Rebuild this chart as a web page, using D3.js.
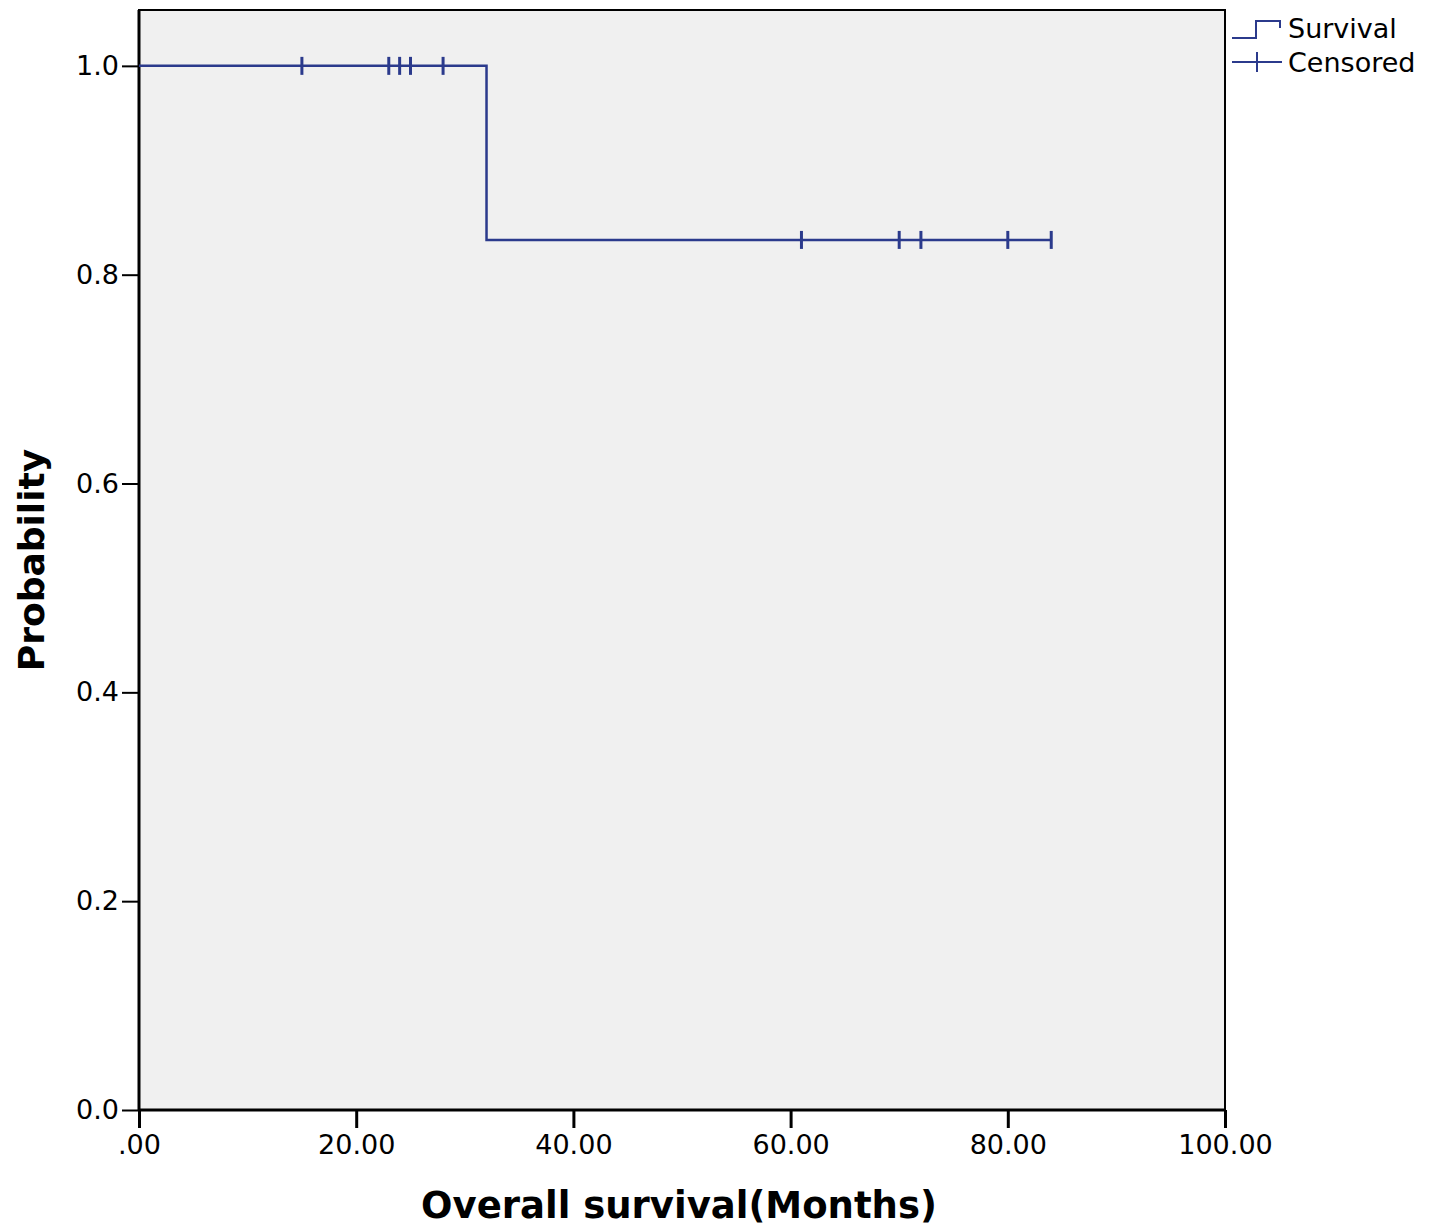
<!DOCTYPE html>
<meta charset="utf-8">
<head>
  <script src="https://d3js.org/d3.v7.min.js"></script>
  <style>
    body { margin: 0; background: #fff; }
    #my_dataviz text { font-family: "DejaVu Sans", Verdana, sans-serif; fill: #000; }
  </style>
</head>
<div id="my_dataviz"></div>
<script>
// survival curve (Kaplan-Meier steps)
var stepTimes = [0, 32, 84];
var stepProbs = [1.0, 0.8333, 0.8333];
// censored observations
var censorTimes = [15, 23, 24, 25, 28, 61, 70, 72, 80, 84];
var censorProbs = [1.0, 1.0, 1.0, 1.0, 1.0, 0.8333, 0.8333, 0.8333, 0.8333, 0.8333];
var xTicks = [0, 20, 40, 60, 80, 100];
var xTickLabels = [".00", "20.00", "40.00", "60.00", "80.00", "100.00"];
var yTicks = [0, 0.2, 0.4, 0.6, 0.8, 1.0];
var legendLabels = ["Survival", "Censored"];

var W = 1435, H = 1226;
var margin = {top: 10, right: 210, bottom: 116, left: 139},
    width = 1225 - margin.left,
    height = 1110 - margin.top;
var lineColor = "#2b3a8c";

var svg = d3.select("#my_dataviz")
  .append("svg")
    .attr("width", W)
    .attr("height", H)
  .append("g")
    .attr("transform", "translate(" + margin.left + "," + margin.top + ")");

var x = d3.scaleLinear().domain([0, 100]).range([0, width]);
var y = d3.scaleLinear().domain([0, 1.0535]).range([height, 0]);

// plot background and frame
svg.append("rect")
  .attr("x", 0).attr("y", 0)
  .attr("width", width).attr("height", height)
  .attr("fill", "#f0f0f0")
  .attr("stroke", "#000")
  .attr("stroke-width", 2);

// Y axis
var yAxis = svg.append("g")
  .call(d3.axisLeft(y).tickValues(yTicks).tickFormat(d3.format(".1f")).tickSize(17).tickPadding(3));
yAxis.select(".domain").remove();
yAxis.selectAll("line").attr("stroke-width", 2);
yAxis.selectAll("text").style("font-size", "27px");
svg.append("line")
  .attr("x1", 0).attr("x2", 0).attr("y1", 0).attr("y2", height)
  .attr("stroke", "#000").attr("stroke-width", 3);

// X axis
var xAxis = svg.append("g")
  .attr("transform", "translate(0," + height + ")")
  .call(d3.axisBottom(x).tickValues(xTicks).tickFormat(function(d, i) { return xTickLabels[i]; }).tickSize(18).tickPadding(7));
xAxis.select(".domain").remove();
xAxis.selectAll("line").attr("stroke-width", 3);
xAxis.selectAll("text").style("font-size", "27px");
svg.append("line")
  .attr("x1", 0).attr("x2", width).attr("y1", height).attr("y2", height)
  .attr("stroke", "#000").attr("stroke-width", 3);

// survival step line
var line = d3.line()
  .x(function(d) { return x(d[0]); })
  .y(function(d) { return y(d[1]); })
  .curve(d3.curveStepAfter);
svg.append("path")
  .datum(stepTimes.map(function(t, i) { return [t, stepProbs[i]]; }))
  .attr("fill", "none")
  .attr("stroke", lineColor)
  .attr("stroke-width", 2.5)
  .attr("d", line);

// censor marks
svg.selectAll("censor")
  .data(censorTimes)
  .enter()
  .append("line")
    .attr("x1", function(d) { return x(d); })
    .attr("x2", function(d) { return x(d); })
    .attr("y1", function(d, i) { return y(censorProbs[i]) - 9; })
    .attr("y2", function(d, i) { return y(censorProbs[i]) + 9; })
    .attr("stroke", lineColor)
    .attr("stroke-width", 3);

// axis titles
svg.append("text")
  .attr("x", (423 + 935) / 2 - margin.left)
  .attr("y", 1218 - margin.top)
  .attr("text-anchor", "middle")
  .style("font-size", "37px")
  .style("font-weight", "bold")
  .text("Overall survival(Months)");
svg.append("text")
  .attr("transform", "translate(" + (44 - margin.left) + "," + (560 - margin.top) + ") rotate(-90)")
  .attr("text-anchor", "middle")
  .style("font-size", "36px")
  .style("font-weight", "bold")
  .text("Probability");

// legend
var lg = svg.append("g").attr("transform", "translate(" + (1232 - margin.left) + "," + (0 - margin.top) + ")");
lg.append("path")
  .attr("d", "M0,38 H24 V21 H48 V28")
  .attr("fill", "none").attr("stroke", lineColor).attr("stroke-width", 2);
lg.append("line").attr("x1", 0).attr("x2", 50).attr("y1", 62).attr("y2", 62)
  .attr("stroke", lineColor).attr("stroke-width", 2);
lg.append("line").attr("x1", 25).attr("x2", 25).attr("y1", 52).attr("y2", 72)
  .attr("stroke", lineColor).attr("stroke-width", 2);
lg.selectAll("legtext")
  .data(legendLabels)
  .enter()
  .append("text")
    .attr("x", 56)
    .attr("y", function(d, i) { return 38 + i * 34; })
    .style("font-size", "27px")
    .text(function(d) { return d; });
</script>
